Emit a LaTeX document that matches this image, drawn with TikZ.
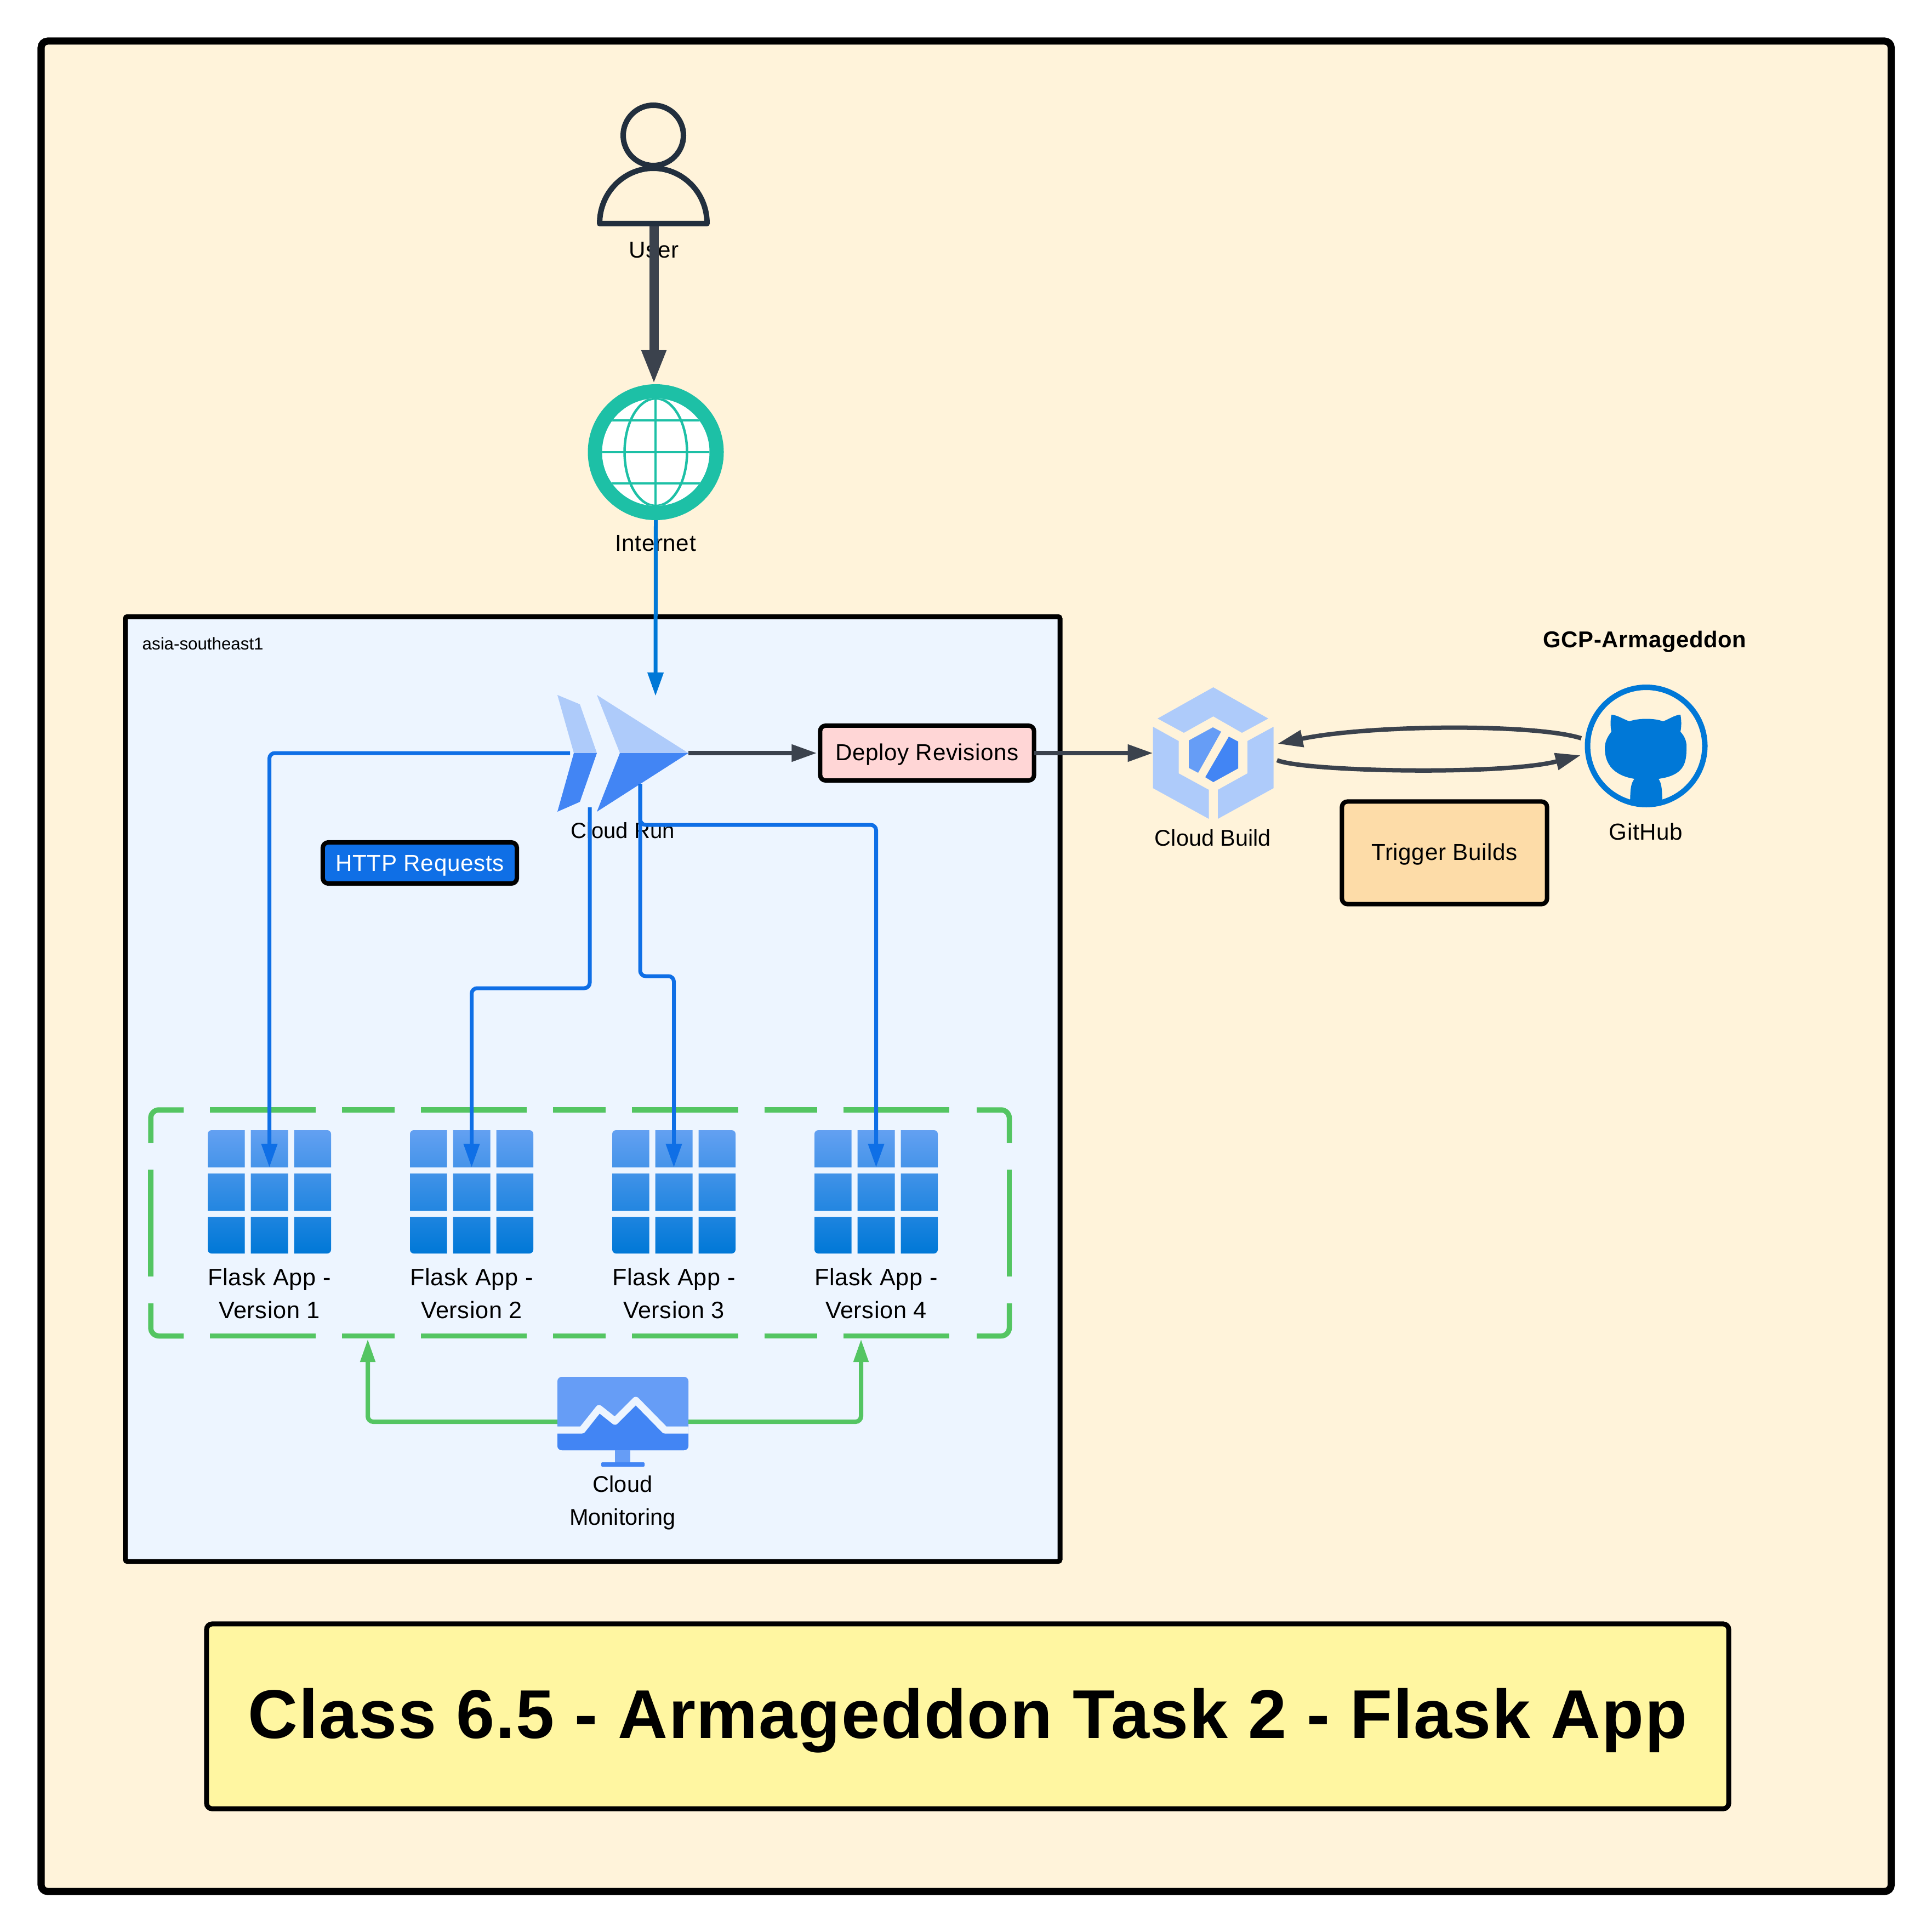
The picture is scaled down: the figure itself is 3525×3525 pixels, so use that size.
\documentclass[tikz,border=0pt]{standalone}
\usepackage{fontspec}
\setmainfont{Liberation Sans}
\newfontfamily\widefont[LetterSpace=1.5]{Liberation Sans}
\usetikzlibrary{arrows.meta}
\definecolor{pagefill}{HTML}{FFF3DA}
\definecolor{regionfill}{HTML}{EDF5FF}
\definecolor{titlefill}{HTML}{FFF6A1}
\definecolor{deployfill}{HTML}{FFD6D6}
\definecolor{triggerfill}{HTML}{FDDCA8}
\definecolor{bluelink}{HTML}{0F6FE6}
\definecolor{azure}{HTML}{0078D7}
\definecolor{graylink}{HTML}{3B424D}
\definecolor{greenlink}{HTML}{54C562}
\definecolor{teal}{HTML}{1DC0A6}
\definecolor{navy}{HTML}{222F3E}
\definecolor{gcplight}{HTML}{AECBFA}
\definecolor{gcpmid}{HTML}{669DF6}
\definecolor{gcpdark}{HTML}{4285F4}
\tikzset{
  icon/.style={minimum width=#1,minimum height=#1,inner sep=0pt,outer sep=0pt},
  label/.style={font=\widefont\fontsize{12}{17.07}\selectfont,align=center,inner sep=0pt,text=black},
  gcplabel/.style={font=\fontsize{11.8}{17.07}\selectfont,align=center,inner sep=0pt,text=black},
  box/.style={draw=black,line width=0.08cm,rounded corners=0.1cm,inner sep=0pt,outer sep=0pt},
  graylinkstyle/.style={draw=graylink,line width=0.08cm,-{Triangle[length=0.46cm,width=0.3cm]}},
  bluelinkstyle/.style={draw=bluelink,line width=0.07cm,rounded corners=0.1cm,-{Triangle[length=0.43cm,width=0.28cm]}},
  greenlinkstyle/.style={draw=greenlink,line width=0.08cm,rounded corners=0.1cm,-{Triangle[length=0.42cm,width=0.26cm]}},
  groupline/.style={draw=greenlink,line width=0.095cm,rounded corners=0.15cm},
  groupdash/.style={groupline,dash pattern=on 1.93cm off 0.48cm on 0.96cm off 0.48cm}
}
\begin{document}
\begin{tikzpicture}[line cap=butt,line join=miter,x=0.01cm,y=-0.01cm]
  \useasboundingbox (0,0) rectangle (3525,3525);
  \fill[white] (0,0) rectangle (3525,3525);
  \draw[fill=pagefill,draw=black,line width=0.13cm,rounded corners=0.12cm] (75,75) rectangle (3450.5,3451);
  \draw[fill=regionfill,draw=black,line width=0.09cm,rounded corners=0.04cm] (228.7,1125) rectangle (1934,2849);
  \node[gcplabel,anchor=west,font=\fontsize{8.9}{10}\selectfont] (region) at (259,1174) {asia-southeast1};
  \node[label,font=\widefont\fontsize{11.9}{14}\selectfont\bfseries] (gcp) at (3001,1171) {GCP-Armageddon};
  % user
  \node[icon=1cm] (user) at (1192,300) {};
  \draw[navy,line width=0.1cm] (1192,247) circle (55);
  \draw[navy,line width=0.1cm,line join=round] (1094,408) .. controls (1094,350) and (1140,307) .. (1192,307) .. controls (1244,307) and (1290,350) .. (1290,408) -- cycle;
  \coordinate (userout) at (1193,413);
  \coordinate (netin) at (1193,701);
  \node[label] (userlabel) at (1193,456) {User};
  % internet
  \node[icon=2.48cm] (internet) at (1196.5,825) {};
  \fill[teal] (internet) circle (124);
  \fill[white] (internet) circle (98);
  \begin{scope}
    \clip (internet) circle (98);
    \draw[teal,line width=0.045cm] (1196.5,825) ellipse (57 and 98);
    \draw[teal,line width=0.045cm] (1096,767) -- (1296,767) (1096,825) -- (1296,825) (1096,882) -- (1296,882) (1196,725) -- (1196,925);
  \end{scope}
  \node[label] (internetlabel) at (1196,991) {Internet};
  % cloud run
  \coordinate (runin) at (1196,1270);
  \node[icon=2cm,minimum width=2.39cm,minimum height=2.13cm] (cloudrun) at (1136.5,1374) {};
  \fill[gcplight] (1017,1268) -- (1058,1285) -- (1089,1374) -- (1047,1374) -- cycle;
  \fill[gcpdark] (1017,1481) -- (1058,1463) -- (1089,1374) -- (1047,1374) -- cycle;
  \fill[gcplight] (1089,1268) -- (1256,1374) -- (1131,1374) -- cycle;
  \fill[gcpdark] (1089,1481) -- (1256,1374) -- (1131,1374) -- cycle;
  \coordinate (runleft) at (1040,1374);
  \coordinate (runtwo) at (1076,1473);
  \coordinate (runthree) at (1168,1430);
  \node[gcplabel,font=\fontsize{11.4}{17.07}\selectfont] (runlabel) at (1136,1515) {Cloud Run};
  % boxes
  \node[box,fill=deployfill,minimum width=3.9cm,minimum height=1cm] (deploy) at (1691.5,1374) {};
  \node[label] at (1691.5,1377) {Deploy Revisions};
  \node[box,fill=triggerfill,minimum width=3.74cm,minimum height=1.87cm] (trigger) at (2635.5,1556) {};
  \node[label] at (2635.5,1559) {Trigger Builds};
  \node[box,fill=bluelink,minimum width=3.54cm,minimum height=0.75cm] (http) at (766,1574.5) {};
  \node[label,text=white] at (766,1579) {HTTP Requests};
  % cloud build
  \node[icon=2.2cm,minimum height=2.4cm] (cloudbuild) at (2213.6,1374) {};
  \fill[gcplight] (2213.6,1254) -- (2314,1311) -- (2266,1337) -- (2213.6,1307) -- (2160,1337) -- (2112,1311) -- cycle;
  \fill[gcplight] (2103.6,1326) -- (2150.5,1352) -- (2150.5,1411) -- (2205.5,1441) -- (2205.5,1494) -- (2103.6,1438) -- cycle;
  \fill[gcplight] (2323.7,1326) -- (2276,1352) -- (2276,1411) -- (2222,1441) -- (2222,1494) -- (2323.7,1438) -- cycle;
  \fill[gcpmid] (2213,1327) -- (2228,1335) -- (2186,1410) -- (2169,1401) -- (2169,1351) -- cycle;
  \fill[gcpdark] (2242,1344) -- (2259,1353) -- (2259,1402) -- (2213.6,1427) -- (2199,1418) -- cycle;
  \node[gcplabel] (buildlabel) at (2213,1529) {Cloud Build};
  \coordinate (buildout) at (2330,1387);
  \coordinate (buildin) at (2331,1357);
  % github
  \node[icon=2.24cm] (github) at (3003.5,1361) {};
  \draw[azure,line width=0.1cm] (github) circle (107);
  \begin{scope}
    \clip (github) circle (107);
    \fill[azure] (2940,1304) .. controls (2950,1304) and (2965,1314) .. (2973,1316) .. controls (2990,1310) and (3018,1310) .. (3034,1316) .. controls (3042,1314) and (3056,1304) .. (3066,1304) .. controls (3068,1315) and (3068,1325) .. (3066,1335) .. controls (3075,1345) and (3078,1355) .. (3077,1367) .. controls (3077,1395) and (3070,1415) .. (3026,1421) .. controls (3032,1430) and (3033,1440) .. (3033,1480) -- (2974,1480) .. controls (2974,1440) and (2975,1430) .. (2982,1421) .. controls (2945,1415) and (2928,1395) .. (2928,1365) .. controls (2928,1355) and (2932,1345) .. (2940,1335) .. controls (2938,1325) and (2938,1315) .. (2940,1304) -- cycle;
  \end{scope}
  \coordinate (gitin) at (2884,1378);
  \coordinate (gitout) at (2885,1347);
  \node[label] (gitlabel) at (3003,1517) {GitHub};
  % group of versions
  \draw[groupdash] (383,2025) -- (1733,2025);
  \draw[groupdash] (383,2437.5) -- (1733,2437.5);
  \draw[groupline] (335,2025) -| (275,2085);
  \draw[groupline] (335,2437.5) -| (275,2378);
  \draw[groupline] (275,2134) -- (275,2329);
  \draw[groupline] (1782,2025) -| (1841.5,2085);
  \draw[groupline] (1782,2437.5) -| (1841.5,2378);
  \draw[groupline] (1841.5,2134) -- (1841.5,2329);
  \foreach \cx/\nm/\ver in {491.5/appone/1,860.5/apptwo/2,1229.5/appthree/3,1598.5/appfour/4}{
    \node[icon=2.25cm] (\nm) at (\cx,2174.5) {};
    \shade[top color=gcpmid!80!azure!90,bottom color=azure,rounded corners=0.07cm] (\cx-112.5,2062) rectangle (\cx+112.5,2287);
    \fill[regionfill] (\cx-45,2055) rectangle (\cx-34,2295) (\cx+34,2055) rectangle (\cx+45,2295);
    \fill[regionfill] (\cx-120,2130) rectangle (\cx+120,2141) (\cx-120,2209) rectangle (\cx+120,2220);
    \coordinate (\nm in) at (\cx,2130);
    \node[label,font=\widefont\fontsize{12.3}{17.07}\selectfont] (\nm label) at (\cx,2360) {Flask App -\\Version \ver};
  }
  % monitoring
  \node[icon=2.39cm,minimum height=1.64cm] (monitor) at (1136.5,2594) {};
  \fill[gcpmid,rounded corners=0.08cm] (1017,2512) rectangle (1256,2646);
  \begin{scope}
    \clip[rounded corners=0.08cm] (1017,2512) rectangle (1256,2646);
    \fill[gcpdark] (1017,2609) -- (1062,2609) -- (1093,2570) -- (1122,2593) -- (1160,2555) -- (1213,2609) -- (1256,2609) -- (1256,2650) -- (1017,2650) -- cycle;
    \draw[regionfill,line width=0.13cm,line join=round] (1010,2609) -- (1062,2609) -- (1093,2570) -- (1122,2593) -- (1160,2555) -- (1213,2609) -- (1265,2609);
  \end{scope}
  \fill[gcpmid] (1122,2646) rectangle (1150,2668);
  \fill[gcpdark,rounded corners=0.02cm] (1097,2668) rectangle (1176,2676);
  \node[gcplabel] (monitorlabel) at (1136,2742) {Cloud\\Monitoring};
  \node[box,fill=titlefill,line width=0.09cm,minimum width=27.755cm,minimum height=3.37cm] (title) at (1765.5,3131.5) {};
  \node[label,font=\widefont\fontsize{35.8}{40}\selectfont\bfseries] at (1765.5,3139) {Class 6.5 - Armageddon Task 2 - Flask App};
  % connectors
  \draw[graylinkstyle,line width=0.17cm,-{Triangle[length=0.62cm,width=0.41cm]}] (userout) -- (netin);
  \draw[azure,line width=0.07cm,-{Triangle[length=0.43cm,width=0.28cm]}] (internet.south) -- (runin);
  \draw[bluelinkstyle] (runleft) -| (apponein);
  \draw[bluelinkstyle] (runtwo) |- (860.5,1803) -- (apptwoin);
  \draw[bluelinkstyle] (runthree) |- (1229.5,1781) -- (appthreein);
  \draw[bluelinkstyle] (runthree) |- (1598.5,1505) -- (appfourin);
  \draw[graylinkstyle,shorten >=0.06cm] (cloudrun.east) -- (deploy.west);
  \draw[graylinkstyle] (deploy.east) -- (cloudbuild.west);
  \draw[graylinkstyle] (gitout) .. controls (2800,1320) and (2500,1322) .. (buildin);
  \draw[graylinkstyle] (buildout) .. controls (2380,1408) and (2740,1415) .. (gitin);
  \draw[greenlinkstyle] (monitor.west) -| (671,2443);
  \draw[greenlinkstyle] (monitor.east) -| (1571,2443);
\end{tikzpicture}
\end{document}
